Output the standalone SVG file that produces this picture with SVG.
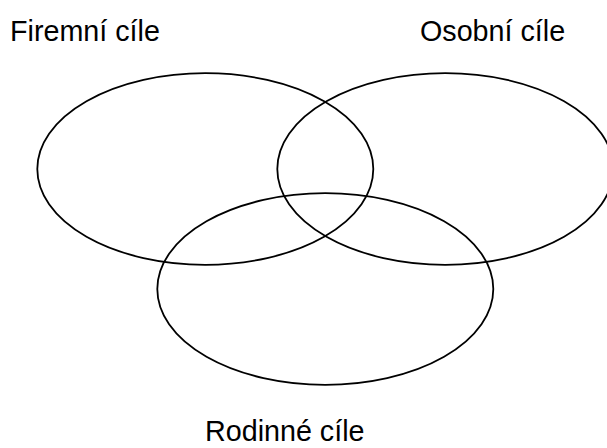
<svg xmlns="http://www.w3.org/2000/svg" width="607" height="448" viewBox="0 0 607 448">
  <style>
    .set { fill: none; stroke: #000; stroke-width: 1.8; }
    .label { font-family: "Liberation Sans", Arial, sans-serif; font-size: 28.7px; fill: #000; }
  </style>
  <rect width="607" height="448" fill="#fff"/>
  <g id="firemni">
    <ellipse class="set" cx="205.3" cy="169" rx="168" ry="95.8"/>
    <text class="label" x="10" y="40.5">Firemní cíle</text>
  </g>
  <g id="osobni">
    <ellipse class="set" cx="445.3" cy="169" rx="168" ry="95.8"/>
    <text class="label" x="420" y="40.5">Osobní cíle</text>
  </g>
  <g id="rodinne">
    <ellipse class="set" cx="325.3" cy="289" rx="168" ry="95.8"/>
    <text class="label" x="205" y="441">Rodinné cíle</text>
  </g>
  <g id="connectors"/>
</svg>
